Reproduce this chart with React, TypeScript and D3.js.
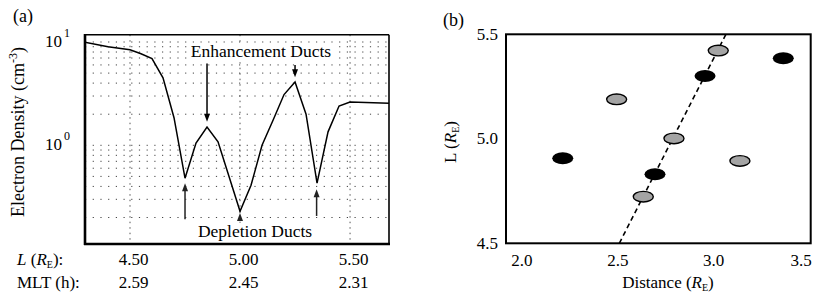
import React from 'react';
import * as d3 from 'd3';

// ---------- Panel (a) data ----------
const shellL = [4.29, 4.40, 4.50, 4.55, 4.60, 4.65, 4.70, 4.75, 4.80, 4.85, 4.90, 4.95, 5.00, 5.05, 5.10, 5.15, 5.20, 5.25, 5.30, 5.35, 5.40, 5.45, 5.50, 5.68];
const density = [10.0, 9.0, 8.4, 7.7, 6.9, 4.5, 1.85, 0.48, 1.05, 1.5, 1.08, 0.5, 0.23, 0.41, 1.0, 1.75, 3.1, 4.1, 2.0, 0.43, 1.35, 2.4, 2.62, 2.55];
const lTicks = [4.5, 5.0, 5.5];
const lTickLabels = ['4.50', '5.00', '5.50'];
const mltLabels = ['2.59', '2.45', '2.31'];
const decadeTicks = [1, 10];
const decadeExponents = ['0', '1'];
const minorMultipliers = [1, 2, 3, 4, 5, 6, 7, 8, 9];
const decades = [0.1, 1, 10];

// annotation arrows (L, tail value, tip value)
const enhArrowL = [4.85, 5.25];
const enhArrowTail = [6.2, 6.0];
const enhArrowTip = [1.69, 4.55];
const depArrowL = [4.75, 5.0, 5.348];
const depArrowTail = [0.192, 0.185, 0.207];
const depArrowTip = [0.429, 0.221, 0.375];

// ---------- Panel (b) data ----------
const grayDist = [3.024, 2.494, 2.793, 3.137, 2.633];
const grayL = [5.422, 5.189, 5.002, 4.894, 4.723];
const blackDist = [3.363, 2.955, 2.213, 2.694];
const blackL = [5.385, 5.30, 4.907, 4.83];
const fitDist = [2.508, 3.064];
const fitL = [4.5, 5.5];
const distTicks = [2.0, 2.5, 3.0, 3.5];
const lbTicks = [4.5, 5.0, 5.5];

const FONT = '"Liberation Serif", "Times New Roman", serif';

export default function App() {
  // panel a scales
  const ax = d3.scaleLinear().domain([4.2955, 5.677]).range([85, 389]);
  const ay = d3.scaleLog().domain([0.1108, 11.77]).range([244, 34.7]);
  const line = d3
    .line<number>()
    .x((_, i) => ax(shellL[i]))
    .y((d) => ay(d));
  const minorGrid: number[] = [];
  decades.forEach((dec) =>
    minorMultipliers.forEach((m) => {
      const v = dec * m;
      if (v >= 0.1108 && v <= 11.77) minorGrid.push(v);
    })
  );

  // panel b scales
  const bx = d3.scaleLinear().domain([1.917, 3.506]).range([506, 810.7]);
  const by = d3.scaleLinear().domain([4.5, 5.5]).range([243.3, 34.3]);
  const fitLine = d3
    .line<number>()
    .x((_, i) => bx(fitDist[i]))
    .y((d) => by(d));

  const arrow = (x: number, y0: number, y1: number, color: string, key: string) => {
    const dir = y1 > y0 ? 1 : -1;
    const head = 8;
    return (
      <g key={key}>
        <line x1={x} y1={y0} x2={x} y2={y1 - dir * head * 0.8} stroke={color} strokeWidth={1.5} />
        <path d={`M${x},${y1} L${x - 3},${y1 - dir * head} L${x + 3},${y1 - dir * head} Z`} fill={color} />
      </g>
    );
  };

  const enhX = ax(5.095);
  const enhY = ay(7.17);
  const depX = ax(5.068);
  const depY = ay(0.13);

  return (
    <svg width={814} height={295} style={{ position: 'absolute', left: 0, top: 0, background: '#fff' }} fontFamily={FONT}>
      <rect x={0} y={0} width={814} height={295} fill="#fff" />
      <defs>
        <clipPath id="clipA">
          <rect x={85} y={34.7} width={304} height={209.3} />
        </clipPath>
      </defs>

      {/* ---------- Panel (a) ---------- */}
      <text x={13} y={22} fontSize={18}>(a)</text>
      {/* gridlines */}
      {minorGrid.map((v, i) => (
        <line key={'h' + i} x1={85} x2={389} y1={ay(v)} y2={ay(v)} stroke="#444" strokeWidth={1} strokeDasharray="1.2,6.5" />
      ))}
      {lTicks.map((l, i) => (
        <line key={'v' + i} x1={ax(l)} x2={ax(l)} y1={34.7} y2={244} stroke="#555" strokeWidth={1} strokeDasharray="1.5,4" />
      ))}
      {/* text backgrounds */}
      <rect x={enhX - 73} y={enhY - 14} width={146} height={19} fill="#fff" />
      <rect x={depX - 61} y={depY - 14} width={122} height={19} fill="#fff" />
      {/* curve */}
      <path d={line(density) || ''} fill="none" stroke="#000" strokeWidth={1.5} clipPath="url(#clipA)" />
      {/* frame */}
      <line x1={85} x2={389} y1={34.7} y2={34.7} stroke="#000" strokeWidth={1.6} />
      <line x1={389} x2={389} y1={34.7} y2={244} stroke="#000" strokeWidth={1.6} />
      <line x1={85} x2={85} y1={34} y2={245} stroke="#000" strokeWidth={2.6} />
      <line x1={84} x2={390} y1={244} y2={244} stroke="#000" strokeWidth={2.6} />
      {/* annotations */}
      <text x={enhX} y={enhY} fontSize={17.5} textAnchor="middle">Enhancement Ducts</text>
      <text x={depX} y={depY} fontSize={17.5} textAnchor="middle">Depletion Ducts</text>
      {enhArrowL.map((l, i) => arrow(ax(l), ay(enhArrowTail[i]), ay(enhArrowTip[i]), '#000', 'ea' + i))}
      {depArrowL.map((l, i) => arrow(ax(l), ay(depArrowTail[i]), ay(depArrowTip[i]), '#222', 'da' + i))}
      {/* y ticks */}
      {decadeTicks.map((v, i) => (
        <text key={'yt' + i} x={45} y={ay(v) + 5} fontSize={17}>
          10
          <tspan fontSize={12} dy={-10} dx={2}>{decadeExponents[i]}</tspan>
        </text>
      ))}
      {/* y title */}
      <text transform={`translate(24,132) rotate(-90)`} fontSize={18} textAnchor="middle">
        Electron Density (cm
        <tspan fontSize={12} dy={-7}>-3</tspan>
        <tspan dy={7}>)</tspan>
      </text>
      {/* L and MLT rows */}
      <text x={17} y={265} fontSize={17}>
        <tspan fontStyle="italic">L</tspan> (<tspan fontStyle="italic">R</tspan>
        <tspan fontSize={10} dy={3}>E</tspan>
        <tspan dy={-3}>):</tspan>
      </text>
      <text x={17} y={288} fontSize={17}>MLT (h):</text>
      {lTicks.map((l, i) => (
        <text key={'lt' + i} x={ax(l) + 3.5} y={265} fontSize={17} textAnchor="middle">{lTickLabels[i]}</text>
      ))}
      {lTicks.map((l, i) => (
        <text key={'mt' + i} x={ax(l) + 3.5} y={288} fontSize={17} textAnchor="middle">{mltLabels[i]}</text>
      ))}

      {/* ---------- Panel (b) ---------- */}
      <text x={443} y={26} fontSize={18}>(b)</text>
      <path d={fitLine(fitL) || ''} fill="none" stroke="#000" strokeWidth={1.6} strokeDasharray="5,3.5" />
      {grayDist.map((d, i) => (
        <ellipse key={'g' + i} cx={bx(d)} cy={by(grayL[i])} rx={10} ry={5.3} fill="#a4a4a4" stroke="#000" strokeWidth={1.4} />
      ))}
      {blackDist.map((d, i) => (
        <ellipse key={'b' + i} cx={bx(d)} cy={by(blackL[i])} rx={10.5} ry={6} fill="#000" />
      ))}
      <rect x={506} y={34.3} width={304.7} height={209} fill="none" stroke="#000" strokeWidth={2} />
      {lbTicks.map((v, i) => (
        <text key={'by' + i} x={498} y={by(v) + 5.5} fontSize={17} textAnchor="end">{v.toFixed(1)}</text>
      ))}
      {distTicks.map((v, i) => (
        <text key={'bx' + i} x={Math.min(bx(v), 801)} y={266} fontSize={17} textAnchor="middle">{v.toFixed(1)}</text>
      ))}
      <text x={668} y={288} fontSize={17} textAnchor="middle">
        Distance (<tspan fontStyle="italic">R</tspan>
        <tspan fontSize={10} dy={3}>E</tspan>
        <tspan dy={-3}>)</tspan>
      </text>
      <text transform={`translate(456,142) rotate(-90)`} fontSize={17} textAnchor="middle">
        L (<tspan fontStyle="italic">R</tspan>
        <tspan fontSize={10} dy={3}>E</tspan>
        <tspan dy={-3}>)</tspan>
      </text>
    </svg>
  );
}
